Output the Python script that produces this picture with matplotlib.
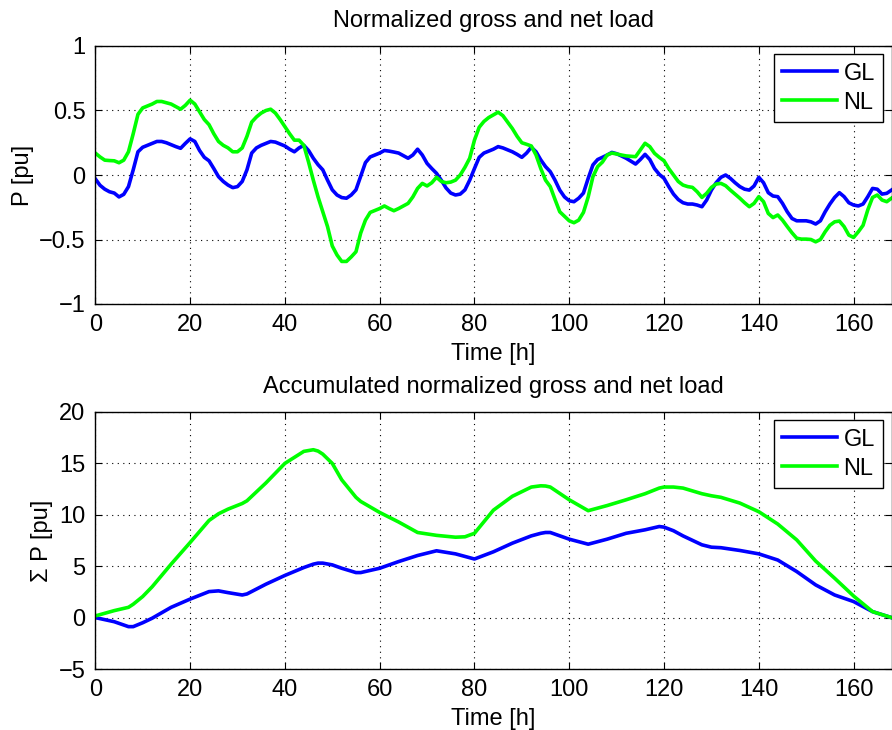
import matplotlib
matplotlib.use("Agg")
import matplotlib.pyplot as plt

plt.rcParams['font.family'] = ['Liberation Sans', 'DejaVu Sans']

hours = list(range(0, 169))

gl = [-0.03, -0.08, -0.11, -0.13, -0.14, -0.17, -0.15, -0.09, 0.04, 0.18,
      0.215, 0.23, 0.245, 0.26, 0.26, 0.25, 0.235, 0.22, 0.207, 0.245,
      0.28, 0.26, 0.19, 0.137, 0.11, 0.05, -0.013, -0.05, -0.078, -0.098,
      -0.09, -0.05, 0.04, 0.17, 0.21, 0.23, 0.245, 0.26, 0.255, 0.24,
      0.225, 0.2, 0.18, 0.21, 0.23, 0.19, 0.13, 0.08, 0.04, -0.04,
      -0.115, -0.155, -0.175, -0.18, -0.155, -0.115, -0.01, 0.096, 0.14, 0.155,
      0.17, 0.19, 0.185, 0.178, 0.17, 0.15, 0.13, 0.155, 0.2, 0.155,
      0.09, 0.05, 0.013, -0.04, -0.10, -0.14, -0.155, -0.148, -0.115, -0.04,
      0.05, 0.137, 0.17, 0.185, 0.2, 0.22, 0.21, 0.195, 0.18, 0.16,
      0.137, 0.17, 0.215, 0.18, 0.117, 0.065, 0.026, -0.04, -0.117, -0.17,
      -0.20, -0.207, -0.18, -0.14, -0.026, 0.078, 0.12, 0.137, 0.155, 0.175,
      0.165, 0.148, 0.13, 0.108, 0.085, 0.12, 0.16, 0.12, 0.05, 0.005,
      -0.026, -0.09, -0.148, -0.19, -0.215, -0.225, -0.225, -0.233, -0.246, -0.194,
      -0.117, -0.06, -0.018, 0.0, -0.026, -0.06, -0.09, -0.11, -0.117, -0.085,
      -0.018, -0.06, -0.137, -0.163, -0.168, -0.22, -0.285, -0.337, -0.355, -0.355,
      -0.355, -0.363, -0.38, -0.355, -0.285, -0.225, -0.174, -0.137, -0.168, -0.215,
      -0.233, -0.24, -0.225, -0.168, -0.104, -0.11, -0.148, -0.142, -0.117]

nl = [0.17, 0.14, 0.115, 0.112, 0.11, 0.095, 0.115, 0.18, 0.32, 0.47,
      0.52, 0.535, 0.55, 0.57, 0.57, 0.56, 0.55, 0.53, 0.51, 0.54,
      0.58, 0.55, 0.49, 0.43, 0.39, 0.32, 0.26, 0.23, 0.21, 0.18,
      0.18, 0.21, 0.30, 0.41, 0.45, 0.48, 0.50, 0.51, 0.48, 0.43,
      0.375, 0.32, 0.27, 0.27, 0.23, 0.10, -0.04, -0.17, -0.285, -0.40,
      -0.55, -0.62, -0.67, -0.67, -0.635, -0.595, -0.45, -0.35, -0.29, -0.275,
      -0.26, -0.24, -0.26, -0.277, -0.26, -0.24, -0.22, -0.17, -0.104, -0.065,
      -0.085, -0.06, -0.018, -0.05, -0.06, -0.055, -0.04, 0.0, 0.06, 0.13,
      0.27, 0.37, 0.415, 0.445, 0.466, 0.487, 0.46, 0.41, 0.36, 0.30,
      0.25, 0.238, 0.225, 0.155, 0.05, -0.04, -0.09, -0.19, -0.285, -0.32,
      -0.355, -0.37, -0.35, -0.29, -0.17, -0.013, 0.065, 0.10, 0.155, 0.17,
      0.163, 0.155, 0.148, 0.145, 0.142, 0.194, 0.246, 0.22, 0.168, 0.137,
      0.11, 0.05, 0.0, -0.05, -0.078, -0.09, -0.096, -0.13, -0.174, -0.142,
      -0.096, -0.07, -0.065, -0.083, -0.117, -0.148, -0.18, -0.215, -0.246, -0.22,
      -0.168, -0.207, -0.298, -0.33, -0.31, -0.35, -0.40, -0.448, -0.49, -0.497,
      -0.497, -0.5, -0.518, -0.5, -0.44, -0.39, -0.363, -0.357, -0.40, -0.466,
      -0.484, -0.44, -0.39, -0.27, -0.174, -0.155, -0.194, -0.207, -0.18]

acc_hours = [0, 4, 7, 8, 10, 12, 16, 20, 24, 26, 28, 31, 32, 36, 40, 44, 46, 47, 48, 50,
             52, 55, 56, 60, 64, 68, 72, 76, 78, 80, 84, 88, 92, 94, 95, 96, 100, 104, 108, 112,
             116, 119, 120, 122, 124, 128, 130, 132, 136, 140, 144, 148, 152, 156, 160, 164, 168]

acc_gl = [0.0, -0.4, -0.88, -0.88, -0.5, -0.06, 1.0, 1.8, 2.53, 2.6, 2.43, 2.2, 2.3, 3.25, 4.1, 4.87, 5.2, 5.3, 5.3, 5.13,
          4.8, 4.38, 4.38, 4.8, 5.45, 6.04, 6.5, 6.2, 5.95, 5.7, 6.4, 7.24, 7.95, 8.2, 8.28, 8.28, 7.63, 7.14, 7.63, 8.2,
          8.54, 8.86, 8.8, 8.45, 7.95, 7.08, 6.85, 6.8, 6.53, 6.2, 5.6, 4.48, 3.18, 2.2, 1.56, 0.58, 0.0]

acc_nl = [0.16, 0.68, 1.0, 1.3, 2.05, 3.0, 5.2, 7.3, 9.45, 10.1, 10.55, 11.1, 11.36, 13.1, 15.0, 16.17, 16.33, 16.2, 15.9, 15.0,
          13.4, 11.7, 11.3, 10.23, 9.3, 8.28, 8.0, 7.82, 7.86, 8.2, 10.45, 11.8, 12.7, 12.82, 12.8, 12.7, 11.46, 10.4, 10.9, 11.46,
          12.05, 12.6, 12.7, 12.7, 12.6, 12.05, 11.85, 11.7, 11.14, 10.3, 9.1, 7.56, 5.5, 3.83, 2.1, 0.58, 0.0]

labels = ['GL', 'NL']
colors = ['#0000ff', '#00ff00']

W, H = 892, 730
fig = plt.figure(figsize=(W / 100, H / 100), dpi=100)

left = 95.3 / W
width = (891.5 - 95.3) / W
ax1 = fig.add_axes([left, 1 - 304 / H, width, 258 / H])
ax2 = fig.add_axes([left, 1 - 669 / H, width, 257 / H])

FS = 17

def style(ax, ylim, yticks):
    ax.set_xlim(0, 168)
    ax.set_ylim(*ylim)
    ax.set_xticks(range(0, 161, 20))
    ax.set_yticks(yticks)
    ax.tick_params(direction='in', top=True, right=True, labelsize=FS,
                   length=5, width=0.8, pad=7)
    ax.grid(True, color='black', linestyle=(0, (1, 4)), linewidth=0.8)
    for s in ax.spines.values():
        s.set_linewidth(1.0)
    ax.set_xlabel('Time [h]', fontsize=FS, labelpad=5)
    leg = ax.legend(loc='upper right', fontsize=FS, fancybox=False, framealpha=1,
                    edgecolor='black', handlelength=2.3, handletextpad=0.3,
                    labelspacing=0.3, borderpad=0.35, borderaxespad=0.35)
    leg.get_frame().set_linewidth(1.0)

ax1.plot(hours, gl, color=colors[0], lw=2.6, label=labels[0])
ax1.plot(hours, nl, color=colors[1], lw=2.6, label=labels[1])
ax1.set_title('Normalized gross and net load', fontsize=FS, pad=14)
ax1.set_ylabel('P [pu]', fontsize=FS)
style(ax1, (-1, 1), [-1, -0.5, 0, 0.5, 1])
ax1.set_yticklabels(['\u22121', '\u22120.5', '0', '0.5', '1'])

ax2.plot(acc_hours, acc_gl, color=colors[0], lw=2.6, label=labels[0])
ax2.plot(acc_hours, acc_nl, color=colors[1], lw=2.6, label=labels[1])
ax2.set_title('Accumulated normalized gross and net load', fontsize=FS, pad=14)
ax2.set_ylabel('\u03a3 P [pu]', fontsize=FS)
style(ax2, (-5, 20), [-5, 0, 5, 10, 15, 20])
ax2.set_yticklabels(['\u22125', '0', '5', '10', '15', '20'])

fig.savefig('out.png', dpi=100)
